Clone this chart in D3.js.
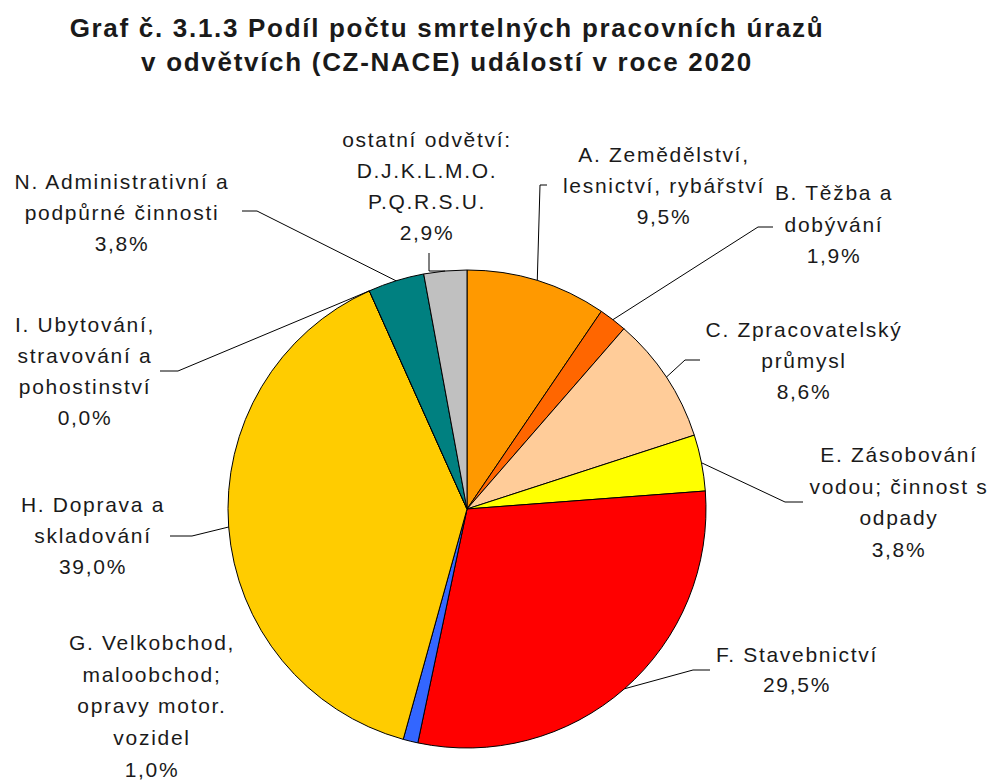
<!DOCTYPE html>
<html>
<head>
<meta charset="utf-8">
<script src="https://cdn.jsdelivr.net/npm/d3@7"></script>
<style>
  body { margin: 0; background: #fff; }
  text { font-family: "Liberation Sans", Arial, sans-serif; fill: #1a1a1a; }
  .title { font-size: 26px; font-weight: bold; letter-spacing: 1.7px; }
  .lbl { font-size: 21px; letter-spacing: 1.7px; }
</style>
</head>
<body>
<script>
// data
var categories = ["A", "B", "C", "E", "F", "G", "H", "I", "N", "ostatní"];
var values = [9.5, 1.9, 8.6, 3.8, 29.5, 1.0, 39.0, 0.0, 3.8, 2.9];
var labels = [
  ["A. Zemědělství,", "lesnictví, rybářství"],
  ["B. Těžba a", "dobývání"],
  ["C. Zpracovatelský", "průmysl"],
  ["E. Zásobování", "vodou; činnost s", "odpady"],
  ["F. Stavebnictví"],
  ["G. Velkobchod,", "maloobchod;", "opravy motor.", "vozidel"],
  ["H. Doprava a", "skladování"],
  ["I. Ubytování,", "stravování a", "pohostinství"],
  ["N. Administrativní a", "podpůrné činnosti"],
  ["ostatní odvětví:", "D.J.K.L.M.O.", "P.Q.R.S.U."]
];
var colors = ["#FF9900", "#FF6600", "#FFCC99", "#FFFF00", "#FF0000", "#3366FF", "#FFCC00", "#FF99CC", "#008080", "#C0C0C0"];
var titleLines = ["Graf č. 3.1.3  Podíl počtu smrtelných pracovních úrazů", "v odvětvích (CZ-NACE) událostí v roce 2020"];

// label placement (centre x, first baseline y, line step) and leader elbows
var labelPos = [
  {x: 664, y: 162, dy: 31, lead: [[540, 185], [547, 185]]},
  {x: 834, y: 200, dy: 31.5, lead: [[758, 227], [773, 227]]},
  {x: 804, y: 337, dy: 31, lead: [[685, 360], [700, 360]]},
  {x: 899, y: 462, dy: 31.5, lead: [[785, 502], [803, 502]]},
  {x: 797, y: 662, dy: 30, lead: [[693, 670], [710, 670]]},
  {x: 152, y: 650, dy: 31.7, lead: null},
  {x: 93, y: 512, dy: 31, lead: [[192, 536], [170, 536]]},
  {x: 85, y: 332, dy: 31, lead: [[178, 371], [160, 371]]},
  {x: 122, y: 189, dy: 31, lead: [[257, 211], [242, 211]]},
  {x: 427, y: 147, dy: 31, lead: [[429, 271], [429, 253]]}
];

var w = 1000, h = 780;
var cx = 467, cy = 509, r = 239;

var fmt = function(v){ return d3.format(".1f")(v).replace(".", ",") + "%"; };

var svg = d3.select("body")
  .append("svg")
  .attr("width", w)
  .attr("height", h);

svg.selectAll("text.title")
  .data(titleLines)
  .enter()
  .append("text")
  .attr("class", "title")
  .attr("x", 447)
  .attr("y", function(d, i){ return 37 + i * 34; })
  .attr("text-anchor", "middle")
  .text(function(d){ return d; });

var pie = d3.pie().sort(null).value(function(d){ return d; });
var arcs = pie(values);
var arc = d3.arc().innerRadius(0).outerRadius(r);

var g = svg.append("g").attr("transform", "translate(" + cx + "," + cy + ")");

g.selectAll("path")
  .data(arcs)
  .enter()
  .append("path")
  .attr("d", arc)
  .attr("fill", function(d, i){ return colors[i]; })
  .attr("stroke", "#000")
  .attr("stroke-width", 1)
  .attr("stroke-linejoin", "round");

// leaders
var line = d3.line();
arcs.forEach(function(a, i){
  var p = labelPos[i];
  if (!p.lead) return;
  var mid = (a.startAngle + a.endAngle) / 2;
  var pt = d3.pointRadial(mid, r);
  var pts = [[pt[0] + cx, pt[1] + cy]].concat(p.lead);
  svg.append("path")
    .attr("d", line(pts))
    .attr("fill", "none")
    .attr("stroke", "#000")
    .attr("stroke-width", 1);
});

// labels
arcs.forEach(function(a, i){
  var p = labelPos[i];
  var lines = labels[i].concat([fmt(values[i])]);
  var t = svg.append("text")
    .attr("class", "lbl")
    .attr("text-anchor", "middle");
  lines.forEach(function(s, k){
    t.append("tspan")
      .attr("x", p.x)
      .attr("y", p.y + k * p.dy)
      .text(s);
  });
});
</script>
</body>
</html>
